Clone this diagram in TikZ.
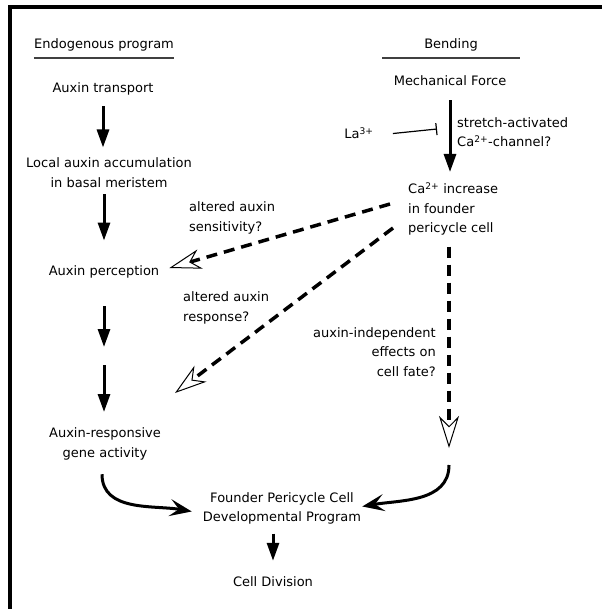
\documentclass[tikz,border=0pt]{standalone}
\usepackage{fontspec}
\setmainfont{DejaVu Sans}
\usetikzlibrary{arrows.meta}

\begin{document}
\begin{tikzpicture}[x=1pt,y=1pt,
    label node/.style={inner sep=0pt,align=center,font=\fontsize{13}{19.5}\selectfont},
    solid arrow/.style={line width=3pt,-{Triangle[length=18pt,width=12pt]}},
    curved arrow/.style={line width=3pt,-{Stealth[length=22pt,width=17pt,inset=9pt]}},
    dashed arrow/.style={line width=3.5pt,dash pattern=on 11pt off 7pt,
      -{Stealth[length=32pt,width=20pt,inset=10pt,fill=white,line width=1pt]}},
    block arrow/.style={line width=1.2pt,-{Bar[width=12pt]}},
    underline/.style={line width=2pt,black!75}]

  \useasboundingbox (0,0) rectangle (602,-609);
  \draw[line width=4pt] (9.5,-609) -- (9.5,-7) -- (602,-7);

  % headings
  \node[label node] (endo) at (104,-45) {Endogenous program};
  \node[label node] (bend) at (451,-45) {Bending};
  \draw[underline] ([yshift=-13pt]endo.west) -- ([yshift=-13pt]endo.east);
  \draw[underline] ([xshift=-42pt,yshift=-13pt]bend.west) -- ([xshift=42pt,yshift=-13pt]bend.east);

  % endogenous program
  \node[label node] (transport) at (103,-89) {Auxin transport};
  \node[label node] (accum) at (109,-172.5) {Local auxin accumulation\\in basal meristem};
  \node[label node] (percep) at (104,-272) {Auxin perception};
  \coordinate (mid) at (104,-356);
  \node[label node] (respons) at (105,-444) {Auxin-responsive\\gene activity};

  % bending
  \node[label node] (force) at (450,-81) {Mechanical Force};
  \node[label node] (lanth) at (359,-133) {La\textsuperscript{3+}};
  \coordinate (block) at (437,-129);
  \node[label node,anchor=west,align=left] (channel) at (457,-132) {stretch-activated\\Ca\textsuperscript{2+}-channel?};
  \node[label node,anchor=west,align=left] (calcium) at (408,-209) {Ca\textsuperscript{2+} increase\\in founder\\pericycle cell};

  % cross talk
  \node[label node,anchor=west,align=left] (sens) at (189,-218) {altered auxin\\sensitivity?};
  \node[label node,anchor=west,align=left] (resp) at (183,-308) {altered auxin\\response?};
  \node[label node,anchor=east,align=right] (indep) at (436,-352) {auxin-independent\\effects on\\cell fate?};
  \coordinate (resptip) at (175,-393);
  \coordinate (fatetip) at (449,-448);

  % common program
  \node[label node] (program) at (282,-508.5) {Founder Pericycle Cell\\Developmental Program};
  \node[label node] (division) at (273,-582) {Cell Division};

  \draw[solid arrow,shorten <=11pt,shorten >=25pt] (transport) -- (transport |- accum);
  \draw[solid arrow,shorten <=22pt,shorten >=25pt] (accum -| percep) -- (percep);
  \draw[solid arrow,shorten <=28pt,shorten >=9pt] (percep) -- (mid);
  \draw[solid arrow,shorten <=9pt,shorten >=32pt] (mid) -- (mid |- respons);
  \draw[solid arrow,shorten <=14pt,shorten >=37pt] (force) -- (force |- calcium);
  \draw[block arrow,shorten <=34pt] ([yshift=-4pt]lanth.center) -- (block);

  \draw[dashed arrow] ([xshift=-18pt,yshift=5pt]calcium.west) -- ([xshift=10pt,yshift=4pt]percep.east);
  \draw[dashed arrow] ([xshift=-15pt,yshift=-19pt]calcium.west) -- (resptip);
  \draw[dashed arrow,shorten <=11pt] (calcium.south -| fatetip) -- (fatetip);

  \draw[curved arrow] ([xshift=-3pt,yshift=-14pt]respons.south) to[out=-90,in=170] ([xshift=-11pt,yshift=-3pt]program.west);
  \draw[curved arrow] ([yshift=-17pt]fatetip) to[out=-90,in=10] ([xshift=1pt,yshift=2pt]program.east);
  \draw[solid arrow,shorten <=25pt,shorten >=16pt] (division |- program) -- (division);
\end{tikzpicture}
\end{document}
